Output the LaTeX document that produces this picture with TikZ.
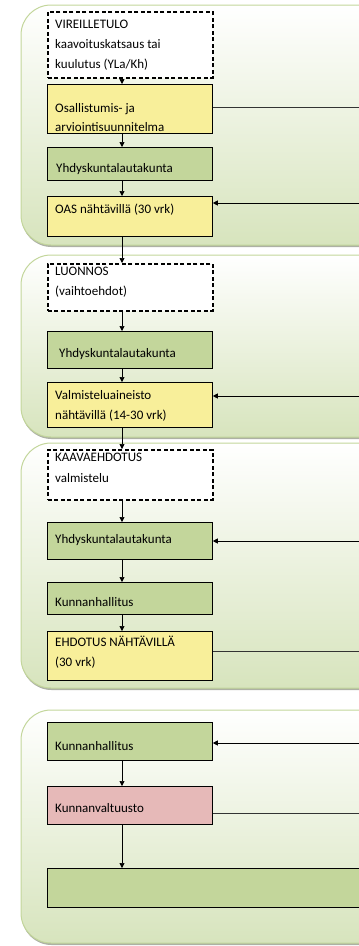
\documentclass[tikz,border=0pt]{standalone}
\usepackage{fontspec}
\setmainfont{Carlito}
\usetikzlibrary{arrows.meta,shadows}
\definecolor{boxyellow}{HTML}{F8EF9A}
\definecolor{boxgreen}{HTML}{C3D69B}
\definecolor{boxpink}{HTML}{E6B9B8}
\definecolor{panelgreen}{HTML}{D7E4BD}
\definecolor{panelline}{HTML}{C3D69B}
\tikzset{
  panel/.style={draw=panelline, line width=1pt, rounded corners=30pt,
    top color=white, bottom color=panelgreen,
    drop shadow={shadow xshift=0.5pt, shadow yshift=-2pt, fill=black!45!panelgreen, opacity=0.6}},
  box/.style={draw, line width=0.8pt, anchor=north west, minimum width=165pt, inner sep=0pt},
  stagebox/.style={box, fill=white, line width=1.5pt, dash pattern=on 4pt off 2.5pt},
  txt/.style={anchor=base west, inner sep=0pt, align=left, font=\fontsize{13}{20}\selectfont},
  arr/.style={line width=0.7pt, -{Triangle[length=5pt,width=5pt]}},
  outline/.style={line width=0.6pt, black!80}
}
\begin{document}
\begin{tikzpicture}[x=1pt, y=-1pt]
\useasboundingbox (0,0) rectangle (359,946);
\clip (0,0) rectangle (359,946);
% Panels
\path[panel] (21,5) rectangle (420,245);
\path[panel] (21,255) rectangle (420,437);
\path[panel] (21,443) rectangle (420,688);
\path[panel] (21,710) rectangle (420,943);

% Boxes
\node[stagebox, minimum height=66pt] (vir1) at (47,11) {};
\node[box, fill=boxyellow, minimum height=49pt] (osa) at (47,84) {};
\node[box, fill=boxgreen, minimum height=33pt] (yla1) at (47,147) {};
\node[box, fill=boxyellow, minimum height=40pt] (oas) at (47,196) {};
\node[stagebox, minimum height=47pt] (lu) at (47,263) {};
\node[box, fill=boxgreen, minimum height=37pt] (yla2) at (47,331) {};
\node[box, fill=boxyellow, minimum height=45pt] (val) at (47,382) {};
\node[stagebox, minimum height=50pt] (kaava) at (47,449) {};
\node[box, fill=boxgreen, minimum height=37pt] (yla3) at (47,522) {};
\node[box, fill=boxgreen, minimum height=32pt] (kh1) at (47,582) {};
\node[box, fill=boxyellow, minimum height=49pt] (ehd) at (47,631) {};
\node[box, fill=boxgreen, minimum height=38pt] (kh2) at (47,722) {};
\node[box, fill=boxpink, minimum height=38pt] (kv) at (47,786) {};
\node[box, fill=boxgreen, minimum height=39pt, minimum width=400pt] (loppu) at (47,868) {};

% Texts (anchored on the last line)
\node[txt] (vir1t) at (55,68) {VIREILLETULO\\kaavoituskatsaus tai\\kuulutus (YLa/Kh)};
\node[txt] (osat) at (55,131) {Osallistumis- ja\\[-1pt]arviointisuunnitelma};
\node[txt] (yla1t) at (56,172) {Yhdyskuntalautakunta};
\node[txt] (oast) at (55,213) {OAS nähtävillä (30 vrk)};
\node[txt] (lut) at (55,295) {LUONNOS\\(vaihtoehdot)};
\node[txt] (yla2t) at (59,357) {Yhdyskuntalautakunta};
\node[txt] (valt) at (55,419) {Valmisteluaineisto\\nähtävillä (14-30 vrk)};
\node[txt] (kaavat) at (55,482) {KAAVAEHDOTUS\\[1pt]valmistelu};
\node[txt] (yla3t) at (55,543) {Yhdyskuntalautakunta};
\node[txt] (kh1t) at (55,606) {Kunnanhallitus};
\node[txt] (ehdt) at (55,666) {EHDOTUS NÄHTÄVILLÄ\\(30 vrk)};
\node[txt] (kh2t) at (55,750) {Kunnanhallitus};
\node[txt] (kvt) at (55,812) {Kunnanvaltuusto};

% Flow downwards
\coordinate (ax) at (122,0);
\foreach \a/\b in {vir1/osa, osa/yla1, yla1/oas, oas/lu, lu/yla2, yla2/val, val/kaava,
                   kaava/yla3, yla3/kh1, kh1/ehd, kh2/kv, kv/loppu}
  \draw[arr] (\a.south -| ax) -- (\b.north -| ax);

% Links to the right
\coordinate (rosa) at (362,107);
\coordinate (roas) at (362,203);
\coordinate (rval) at (362,396);
\coordinate (ryla3) at (362,541);
\coordinate (rehd) at (362,651);
\coordinate (rkh2) at (362,743);
\coordinate (rkv) at (362,813);
\draw[outline] (osa.east |- rosa) -- (rosa);
\draw[outline] (ehd.east |- rehd) -- (rehd);
\draw[outline] (kv.east |- rkv) -- (rkv);
\foreach \r/\b in {roas/oas, rval/val, ryla3/yla3, rkh2/kh2}
  \draw[arr] (\r) -- (\b.east |- \r);
\end{tikzpicture}
\end{document}
